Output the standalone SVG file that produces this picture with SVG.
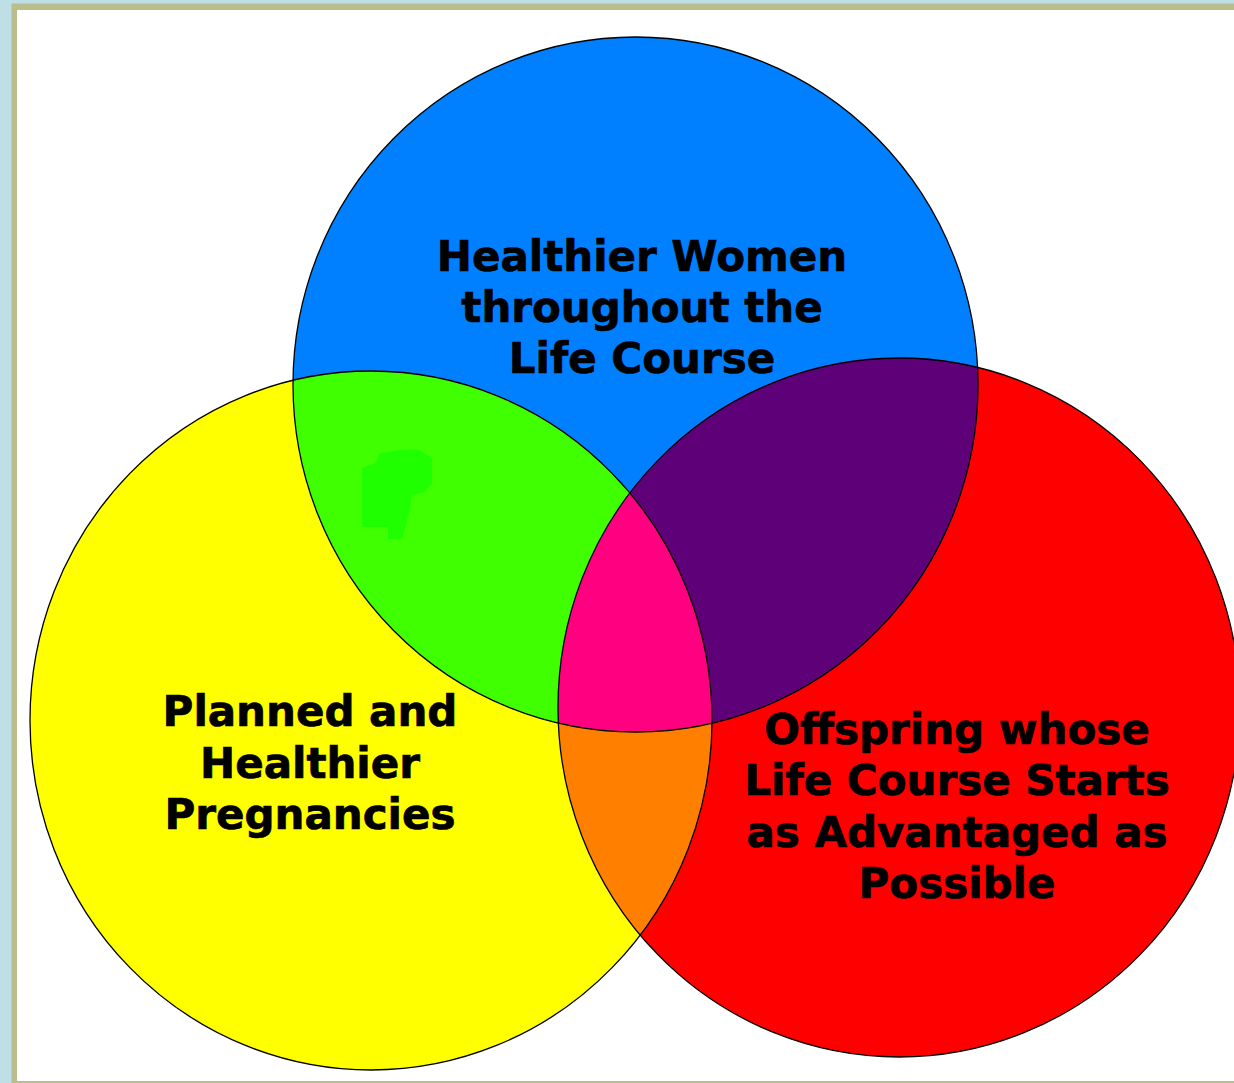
<svg xmlns="http://www.w3.org/2000/svg" width="1234" height="1083" viewBox="0 0 1234 1083">
<style>
.lbl{font-family:"DejaVu Sans","Verdana",sans-serif;font-weight:bold;font-size:42px;fill:#000;stroke:#000;stroke-width:0.7;text-anchor:middle}
.edge{fill:none;stroke:#000;stroke-width:1.3}
</style>
<defs>
<ellipse id="cy" cx="371" cy="720.5" rx="341" ry="349.5"/>
<ellipse id="cb" cx="635.5" cy="384.5" rx="342.5" ry="347.5"/>
<ellipse id="cr" cx="899" cy="707.5" rx="341" ry="349.5"/>
<clipPath id="clipY"><use href="#cy"/></clipPath>
<clipPath id="clipB"><use href="#cb"/></clipPath>
<clipPath id="clipR"><use href="#cr"/></clipPath>
</defs>
<rect x="0" y="0" width="1234" height="1083" fill="#BDDFE5"/>
<rect x="11.5" y="3.5" width="1230" height="1080" fill="#BABD8C"/>
<rect x="17" y="10" width="1220" height="1071" fill="#FFFFFF"/>
<g id="node-yellow"><use href="#cy" fill="#FFFF00"/></g>
<g id="node-blue"><use href="#cb" fill="#0080FF"/></g>
<g id="node-red"><use href="#cr" fill="#FF0000"/></g>
<g id="overlaps">
<g clip-path="url(#clipB)"><use href="#cy" fill="#40FF00"/></g>
<g clip-path="url(#clipR)"><use href="#cb" fill="#5E0078"/></g>
<g clip-path="url(#clipR)"><use href="#cy" fill="#FF8000"/></g>
<g clip-path="url(#clipR)"><g clip-path="url(#clipB)"><use href="#cy" fill="#FF0080"/></g></g>
<polygon fill="#20FF00" points="362,468 375,463 380,453 400,450 417,449 428,455 432,458 432,483 425,492 412,495 410,510 405,527 402,539 388,539 388,527 362,527"/>
</g>
<g id="outlines">
<use href="#cy" class="edge"/>
<use href="#cb" class="edge"/>
<use href="#cr" class="edge"/>
</g>
<g id="labels">
<text class="lbl" x="642" y="271">Healthier Women</text>
<text class="lbl" x="642" y="322">throughout the</text>
<text class="lbl" x="642" y="373">Life Course</text>
<text class="lbl" x="310" y="726">Planned and</text>
<text class="lbl" x="310" y="778">Healthier</text>
<text class="lbl" x="310" y="829">Pregnancies</text>
<text class="lbl" x="957" y="744">Offspring whose</text>
<text class="lbl" x="957" y="795">Life Course Starts</text>
<text class="lbl" x="957" y="847">as Advantaged as</text>
<text class="lbl" x="957" y="898">Possible</text>
</g>
</svg>
